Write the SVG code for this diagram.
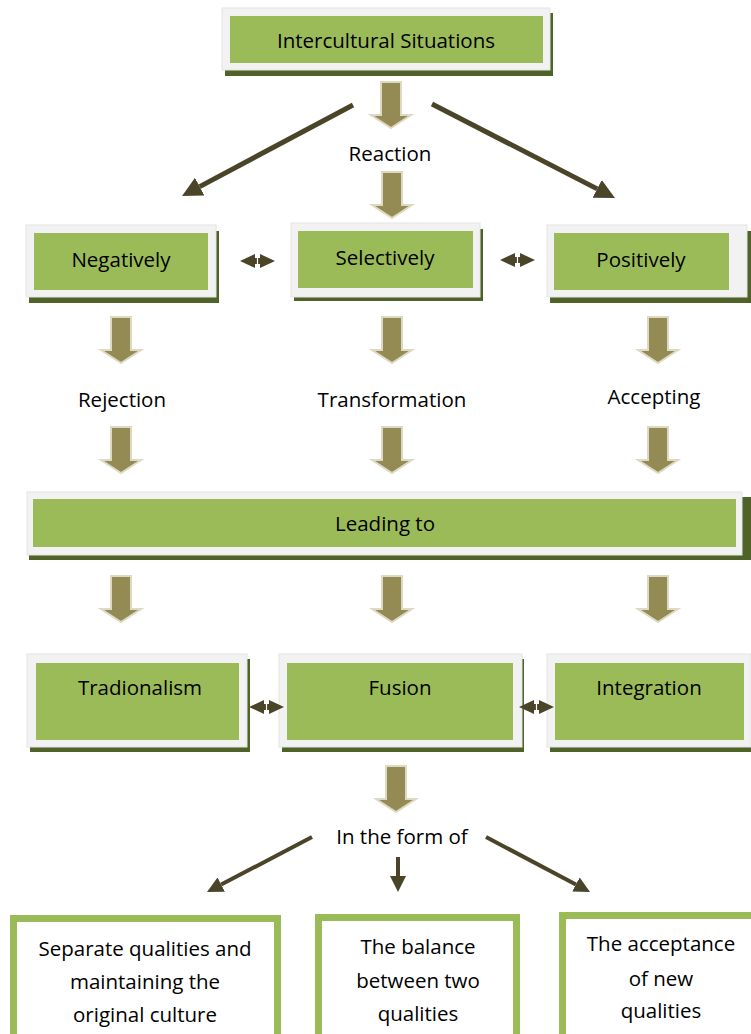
<svg xmlns="http://www.w3.org/2000/svg" width="751" height="1034" viewBox="0 0 751 1034">
<style>
.frame{fill:#f2f2f2;stroke:#e4e4e4;stroke-width:1}
.green{fill:#9bbb59}
.shadow{fill:#4f6228}
.lbl{font-family:"Open Sans","DejaVu Sans",sans-serif;font-size:20.5px;fill:#000;text-anchor:middle}
.blk{fill:#948a54;stroke:#ddd9c3;stroke-width:2}
.diag{stroke:#4a4429;stroke-width:5;fill:none}
.diag2{stroke:#4a4429;stroke-width:4;fill:none}
.dbl{fill:#4a4429}
.out{fill:#fff;stroke:#9bbb59;stroke-width:7}
</style>
<defs>
<path id="ba" class="blk" d="M10,0 H30 V33 H40 L20,46 L0,33 H10 Z"/>
<g id="da"><path class="dbl" d="M0,6 L15,-1 L15,3 L20,3 L20,-1 L35,6 L20,13 L20,9 L15,9 L15,13 Z"/><line x1="17.5" y1="-1" x2="17.5" y2="13" stroke="#fff" stroke-width="1.2"/></g>
<marker id="ah" viewBox="0 -10 20 20" markerWidth="20" markerHeight="20" refX="0" refY="0" orient="auto" markerUnits="userSpaceOnUse"><path d="M0,-10 L20,0 L0,10 Z" fill="#4a4429"/></marker>
<marker id="ah2" viewBox="0 -10 20 20" markerWidth="16" markerHeight="16" refX="0" refY="0" orient="auto" markerUnits="userSpaceOnUse"><path d="M0,-10 L20,0 L0,10 Z" fill="#4a4429"/></marker>
</defs>
<rect width="751" height="1034" fill="#fff"/>

<g id="n-intercultural">
<rect class="shadow" x="225" y="13" width="328" height="63"/>
<rect class="frame" x="222" y="8" width="328" height="62"/>
<rect class="green" x="230" y="16" width="313" height="47"/>
<text class="lbl" x="386" y="48">Intercultural Situations</text>
</g>

<g id="n-reaction"><text class="lbl" x="390" y="161">Reaction</text></g>

<g id="n-negatively">
<rect class="shadow" x="29" y="231" width="190" height="72"/>
<rect class="frame" x="26" y="225" width="190" height="72"/>
<rect class="green" x="34" y="233" width="174" height="57"/>
<text class="lbl" x="121" y="267">Negatively</text>
</g>
<g id="n-selectively">
<rect class="shadow" x="294" y="229" width="189" height="72"/>
<rect class="frame" x="291" y="223" width="189" height="74"/>
<rect class="green" x="298" y="231" width="175" height="57"/>
<text class="lbl" x="385" y="265">Selectively</text>
</g>
<g id="n-positively">
<rect class="shadow" x="550" y="231" width="201" height="72"/>
<rect class="frame" x="547" y="225" width="200" height="72"/>
<rect class="green" x="554" y="233" width="175" height="57"/>
<text class="lbl" x="641" y="267">Positively</text>
</g>

<g id="n-rejection"><text class="lbl" x="122" y="407">Rejection</text></g>
<g id="n-transformation"><text class="lbl" x="392" y="407">Transformation</text></g>
<g id="n-accepting"><text class="lbl" x="654" y="404">Accepting</text></g>

<g id="n-leading">
<rect class="shadow" x="29" y="497" width="722" height="63"/>
<rect class="frame" x="27" y="492" width="715" height="63"/>
<rect class="green" x="33" y="499" width="703" height="48"/>
<text class="lbl" x="385" y="531">Leading to</text>
</g>

<g id="n-tradionalism">
<rect class="shadow" x="30" y="659" width="220" height="93"/>
<rect class="frame" x="27" y="654" width="220" height="93"/>
<rect class="green" x="36" y="663" width="203" height="77"/>
<text class="lbl" x="140" y="695">Tradionalism</text>
</g>
<g id="n-fusion">
<rect class="shadow" x="282" y="659" width="242" height="93"/>
<rect class="frame" x="279" y="654" width="243" height="93"/>
<rect class="green" x="287" y="663" width="226" height="77"/>
<text class="lbl" x="400" y="695">Fusion</text>
</g>
<g id="n-integration">
<rect class="shadow" x="550" y="659" width="201" height="93"/>
<rect class="frame" x="547" y="654" width="204" height="93"/>
<rect class="green" x="555" y="663" width="189" height="77"/>
<text class="lbl" x="649" y="695">Integration</text>
</g>

<g id="n-inform"><text class="lbl" x="402" y="844">In the form of</text></g>

<g id="n-separate">
<rect class="out" x="13.5" y="918.5" width="264" height="130"/>
<text class="lbl" x="145" y="956">Separate qualities and</text>
<text class="lbl" x="145" y="989">maintaining the</text>
<text class="lbl" x="145" y="1022">original culture</text>
</g>
<g id="n-balance">
<rect class="out" x="318.5" y="917.5" width="198" height="130"/>
<text class="lbl" x="418" y="954">The balance</text>
<text class="lbl" x="418" y="988">between two</text>
<text class="lbl" x="418" y="1021">qualities</text>
</g>
<g id="n-acceptance">
<rect class="out" x="562.5" y="915.5" width="200" height="130"/>
<text class="lbl" x="661" y="951">The acceptance</text>
<text class="lbl" x="661" y="986">of new</text>
<text class="lbl" x="661" y="1018">qualities</text>
</g>

<g id="connectors">
<use href="#ba" x="371" y="82"/>
<use href="#ba" x="372" y="172"/>
<use href="#ba" x="101" y="317"/>
<use href="#ba" x="372" y="317"/>
<use href="#ba" x="638" y="317"/>
<use href="#ba" x="101" y="427"/>
<use href="#ba" x="372" y="427"/>
<use href="#ba" x="638" y="427"/>
<use href="#ba" x="101" y="576"/>
<use href="#ba" x="372" y="576"/>
<use href="#ba" x="638" y="576"/>
<use href="#ba" x="376" y="766"/>
<use href="#da" x="240" y="255"/>
<use href="#da" x="500" y="254"/>
<use href="#da" x="249" y="701"/>
<use href="#da" x="519" y="701"/>
<line class="diag" x1="353" y1="105" x2="199.7" y2="186.6" marker-end="url(#ah)"/>
<line class="diag" x1="432" y1="104" x2="597.2" y2="188.9" marker-end="url(#ah)"/>
<line class="diag2" x1="312" y1="837" x2="221.2" y2="884.6" marker-end="url(#ah2)"/>
<line class="diag2" x1="398" y1="857" x2="398" y2="876" marker-end="url(#ah2)"/>
<line class="diag2" x1="486" y1="837" x2="575.9" y2="884.5" marker-end="url(#ah2)"/>
</g>
</svg>
